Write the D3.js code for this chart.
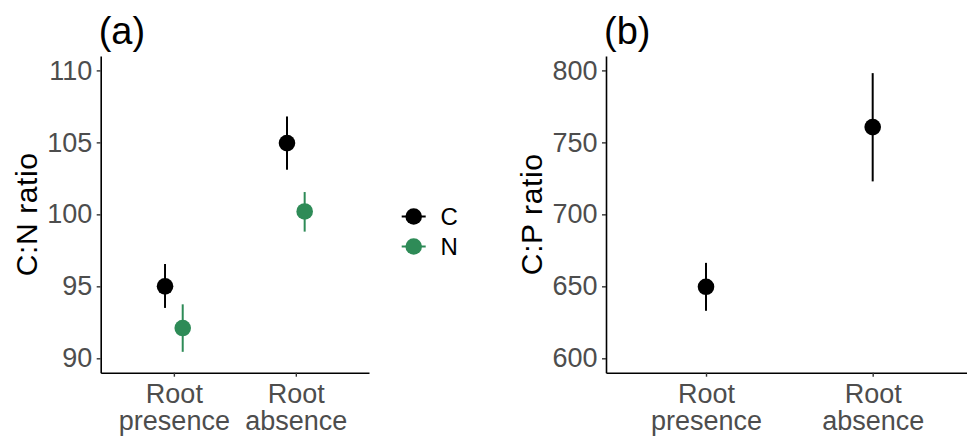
<!DOCTYPE html>
<html>
<head>
<meta charset="utf-8">
<script src="https://cdn.jsdelivr.net/npm/d3@7"></script>
<style>
  html, body { margin: 0; padding: 0; background: #fff; }
  svg text { font-family: "Liberation Sans", Arial, sans-serif; }
</style>
</head>
<body>
<div id="chart"></div>
<script>
// Categories (x axis) and groups
const sites = ["Root\npresence", "Root\nabsence"];
const elements = ["C", "N"];

// Panel (a): C:N ratio, mean with lower/upper bounds, per element
const cnMean = { C: [95.0, 104.95], N: [92.1, 100.2] };
const cnLow = { C: [93.5, 103.1], N: [90.45, 98.8] };
const cnHigh = { C: [96.55, 106.8], N: [93.75, 101.55] };
const cnTicks = [90, 95, 100, 105, 110];

// Panel (b): C:P ratio
const cpMean = [649.7, 760.6];
const cpLow = [633, 722.9];
const cpHigh = [666.3, 798.1];
const cpTicks = [600, 650, 700, 750, 800];

const colors = { C: "#000000", N: "#2E8B57" };

const width = 967, height = 437;
const svg = d3.select("#chart").append("svg")
    .attr("width", width)
    .attr("height", height);

const plotTop = 56, plotBottom = 372.7;
const pointR = 8.3;

function drawPanel(opts) {
    const g = svg.append("g");
    const x = d3.scalePoint().domain(sites).range([opts.left, opts.right]).padding(0.6);
    const y = d3.scaleLinear().domain(opts.domain).range([plotBottom, plotTop]);

    // y axis
    const yAxis = g.append("g")
        .attr("transform", `translate(${opts.left},0)`)
        .call(d3.axisLeft(y).tickValues(opts.ticks).tickSize(4).tickPadding(4.5).tickSizeOuter(0));
    yAxis.select(".domain").attr("stroke", "#000").attr("stroke-width", 1.6);
    yAxis.selectAll(".tick line").attr("stroke", "#333").attr("stroke-width", 1.4);
    yAxis.selectAll(".tick text")
        .attr("font-size", 27).attr("fill", "#4d4d4d")
        .style("font-family", "'Liberation Sans', Arial, sans-serif");

    // x axis
    const xAxis = g.append("g")
        .attr("transform", `translate(0,${plotBottom})`)
        .call(d3.axisBottom(x).tickSize(4).tickSizeOuter(0).tickFormat(""));
    xAxis.select(".domain").attr("stroke", "#000").attr("stroke-width", 1.6);
    xAxis.selectAll(".tick line").attr("stroke", "#333").attr("stroke-width", 1.4);
    xAxis.selectAll(".tick").each(function(d) {
        const t = d3.select(this).append("text")
            .attr("fill", "#4d4d4d").attr("font-size", 27)
            .attr("text-anchor", "middle")
            .style("font-family", "'Liberation Sans', Arial, sans-serif");
        d.split("\n").forEach((line, i) => {
            t.append("tspan").attr("x", 0).attr("y", 30 + i * 27.3).text(line);
        });
    });

    // y axis title
    g.append("text")
        .attr("transform", `translate(${opts.titleX},${(plotTop + plotBottom) / 2}) rotate(-90)`)
        .attr("text-anchor", "middle")
        .attr("font-size", 30)
        .attr("letter-spacing", 0.6)
        .attr("fill", "#000")
        .text(opts.title);

    // panel tag
    g.append("text")
        .attr("x", opts.left - 2)
        .attr("y", 43.5)
        .attr("font-size", 38)
        .attr("fill", "#000")
        .text(opts.tag);

    return { g, x, y };
}

// Panel (a)
const pa = drawPanel({
    left: 100.7, right: 369, domain: [89, 111], ticks: cnTicks,
    title: "C:N ratio", titleX: 37, tag: "(a)"
});
const step = pa.x.step();
const dodge = d3.scalePoint().domain(elements).range([-0.0725 * step, 0.0725 * step]);

elements.forEach(el => {
    sites.forEach((s, i) => {
        const cx = pa.x(s) + dodge(el);
        pa.g.append("line")
            .attr("x1", cx).attr("x2", cx)
            .attr("y1", pa.y(cnLow[el][i])).attr("y2", pa.y(cnHigh[el][i]))
            .attr("stroke", colors[el]).attr("stroke-width", 2);
        pa.g.append("circle")
            .attr("cx", cx).attr("cy", pa.y(cnMean[el][i]))
            .attr("r", pointR).attr("fill", colors[el]);
    });
});

// Legend
const legend = svg.append("g").attr("transform", "translate(413.7,216.5)");
elements.forEach((el, i) => {
    const row = legend.append("g").attr("transform", `translate(0,${i * 30})`);
    row.append("line").attr("x1", -12).attr("x2", 12)
        .attr("stroke", colors[el]).attr("stroke-width", 2);
    row.append("circle").attr("r", pointR).attr("fill", colors[el]);
    row.append("text").attr("x", 26.8).attr("y", 8.6)
        .attr("font-size", 24).attr("fill", "#000").text(el);
});

// Panel (b)
const pb = drawPanel({
    left: 606, right: 972.7, domain: [590, 810], ticks: cpTicks,
    title: "C:P ratio", titleX: 542, tag: "(b)"
});
sites.forEach((s, i) => {
    const cx = pb.x(s);
    pb.g.append("line")
        .attr("x1", cx).attr("x2", cx)
        .attr("y1", pb.y(cpLow[i])).attr("y2", pb.y(cpHigh[i]))
        .attr("stroke", "#000").attr("stroke-width", 2);
    pb.g.append("circle")
        .attr("cx", cx).attr("cy", pb.y(cpMean[i]))
        .attr("r", pointR).attr("fill", "#000");
});
</script>
</body>
</html>
